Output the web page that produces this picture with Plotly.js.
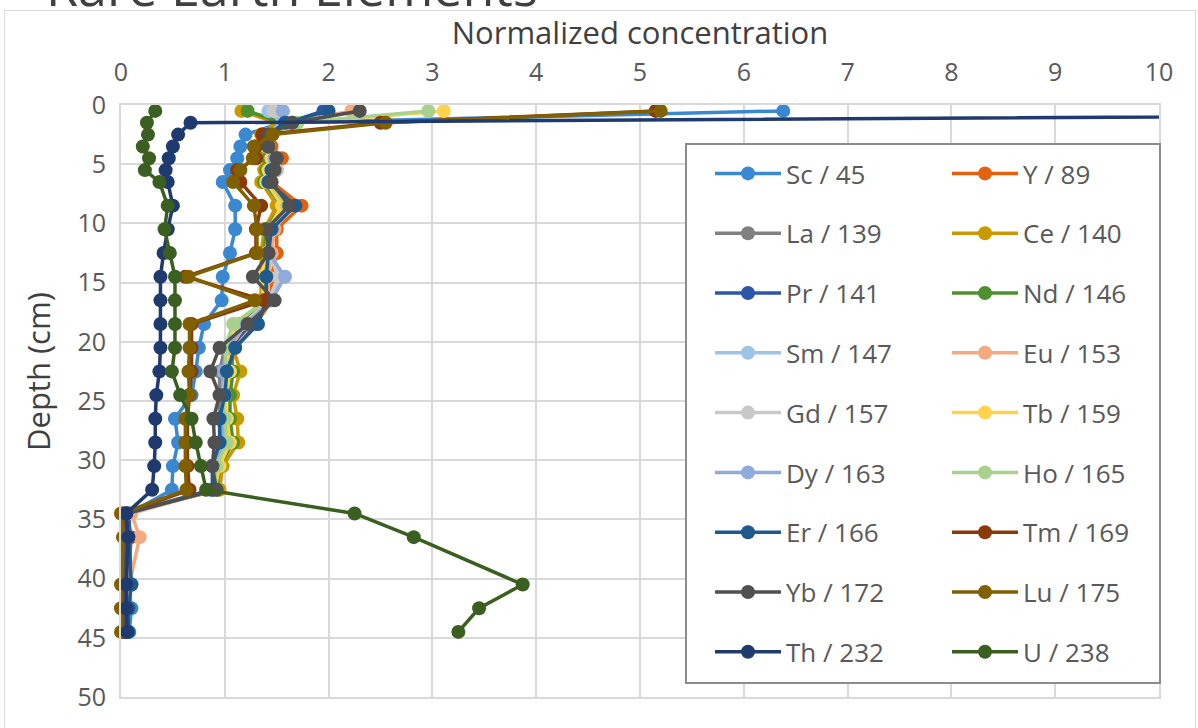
<!DOCTYPE html>
<html><head><meta charset="utf-8">
<script src="https://cdn.plot.ly/plotly-3.0.1.min.js"></script>
<style>
html,body{margin:0;padding:0;background:#fff;overflow:hidden}
#chart{width:1198px;height:728px}
#frame{position:absolute;left:4px;top:10px;width:1190px;height:740px;border:1px solid #d9d9d9;pointer-events:none}
</style></head><body>
<div id="chart"></div><div id="frame"></div>
<script>
// Depth of each sample (cm)
const depth = [0.5,1.5,2.5,3.5,4.5,5.5,6.5,8.5,10.5,12.5,14.5,16.5,18.5,20.5,22.5,24.5,26.5,28.5,30.5,32.5,34.5,36.5,40.5,42.5,44.5];

// Normalized concentrations per element
const Sc = [6.38,1.55,1.2,1.15,1.12,1.05,0.98,1.1,1.1,1.05,0.98,0.97,0.8,0.75,0.72,0.68,0.52,0.55,0.5,0.49,0.08,0.05,0.07,0.1,0.08];
const Y  = [2.25,1.65,1.45,1.45,1.55,1.5,1.45,1.74,1.5,1.5,1.45,1.45,1.3,1.1,1.05,1.0,0.98,0.98,0.92,0.9,0.06,0.1,0.06,0.05,0.05];
const La = [1.5,1.6,1.4,1.4,1.42,1.4,1.38,1.55,1.4,1.4,1.42,1.42,1.2,1.0,0.95,0.95,0.95,0.98,0.9,0.88,0.05,0.06,0.05,0.04,0.04];
const Ce = [1.16,1.5,1.35,1.35,1.4,1.38,1.35,1.5,1.38,1.35,1.35,1.35,1.2,1.08,1.15,1.08,1.12,1.13,0.98,0.95,0.02,0.05,0.02,0.01,0.01];
const Pr = [1.95,1.6,1.4,1.4,1.45,1.42,1.4,1.6,1.42,1.4,1.4,1.42,1.25,1.05,1.0,1.0,0.98,1.0,0.9,0.88,0.08,0.08,0.1,0.07,0.06];
const Nd = [1.22,1.55,1.38,1.38,1.42,1.4,1.38,1.55,1.4,1.38,1.38,1.4,1.15,1.05,1.08,1.05,1.05,1.08,0.95,0.92,0.03,0.05,0.03,0.02,0.02];
const Sm = [1.42,1.55,1.4,1.42,1.45,1.45,1.4,1.6,1.45,1.45,1.55,1.45,1.2,1.05,1.0,1.0,1.0,1.02,0.92,0.9,0.05,0.07,0.05,0.05,0.06];
const Eu = [2.22,1.65,1.42,1.42,1.5,1.48,1.42,1.65,1.48,1.45,1.42,1.42,1.2,1.05,1.0,0.98,0.98,1.0,0.92,0.9,0.1,0.18,0.08,0.06,0.06];
const Gd = [1.47,1.6,1.42,1.42,1.48,1.5,1.42,1.58,1.45,1.42,1.52,1.42,1.18,1.02,1.0,0.98,0.98,1.0,0.9,0.88,0.04,0.06,0.04,0.04,0.04];
const Tb = [3.11,1.7,1.42,1.4,1.45,1.42,1.4,1.55,1.42,1.4,1.35,1.38,1.1,1.02,1.05,1.0,1.02,1.05,0.95,0.9,0.04,0.06,0.04,0.04,0.04];
const Dy = [1.56,1.6,1.42,1.42,1.48,1.45,1.42,1.62,1.45,1.42,1.58,1.45,1.2,1.02,0.98,0.98,0.98,1.0,0.9,0.88,0.05,0.07,0.05,0.05,0.05];
const Ho = [2.96,1.7,1.42,1.42,1.5,1.45,1.42,1.6,1.45,1.42,1.4,1.4,1.08,1.0,1.02,0.98,1.0,1.02,0.92,0.9,0.05,0.06,0.05,0.04,0.04];
const Er = [2.0,1.58,1.42,1.42,1.5,1.45,1.42,1.68,1.45,1.42,1.4,1.4,1.32,1.1,1.02,1.0,0.95,0.95,0.88,0.88,0.05,0.07,0.1,0.07,0.07];
const Tm = [5.15,2.5,1.36,1.3,1.3,1.12,1.15,1.35,1.3,1.3,0.62,1.38,0.68,0.68,0.68,0.66,0.64,0.64,0.64,0.66,0.03,0.06,0.03,0.02,0.02];
const Yb = [2.3,1.65,1.42,1.42,1.5,1.48,1.45,1.62,1.4,1.42,1.27,1.48,1.22,0.95,0.86,0.95,0.89,0.9,0.88,0.92,0.05,0.05,0.04,0.03,0.03];
const Lu = [5.2,2.55,1.46,1.28,1.27,1.15,1.08,1.28,1.31,1.31,0.65,1.29,0.66,0.66,0.65,0.66,0.62,0.62,0.62,0.63,0.0,0.02,0.0,0.0,0.0];
const Th = [19.5,0.67,0.55,0.5,0.46,0.43,0.45,0.5,0.45,0.41,0.38,0.38,0.38,0.38,0.37,0.34,0.33,0.33,0.32,0.3,0.05,0.07,0.05,0.05,0.06];
const U  = [0.33,0.25,0.26,0.21,0.27,0.23,0.37,0.45,0.42,0.47,0.52,0.52,0.52,0.52,0.49,0.57,0.68,0.72,0.77,0.82,2.25,2.82,3.87,3.45,3.25];

const seriesNames = ['Sc / 45','Y / 89','La / 139','Ce / 140','Pr / 141','Nd / 146','Sm / 147','Eu / 153','Gd / 157','Tb / 159','Dy / 163','Ho / 165','Er / 166','Tm / 169','Yb / 172','Lu / 175','Th / 232','U / 238'];
const seriesValues = [Sc,Y,La,Ce,Pr,Nd,Sm,Eu,Gd,Tb,Dy,Ho,Er,Tm,Yb,Lu,Th,U];
const seriesColors = ['#3A88D2','#E2620F','#808080','#C99A00','#2E56A8','#4E9030','#9DC3E6','#F4AA80','#C8C8C8','#FFD24D','#8FAADC','#A9D18E','#1F5A8F','#8A3A0A','#505050','#806000','#1F3A6E','#3A5F20'];

const FONT = 'Open Sans, Noto Sans, sans-serif';
const traces = seriesValues.map((v, i) => ({
  type: 'scatter', mode: 'lines+markers',
  x: v, y: depth, name: seriesNames[i],
  legend: i % 2 === 0 ? 'legend' : 'legend2',
  legendgroup: 'g' + i,
  cliponaxis: false,
  line: {color: seriesColors[i], width: 3.5},
  marker: {color: seriesColors[i], size: 14}
}));

// plot area in px: left 121, right 1159, top 105, bottom 697
const L = 121, R = 1159, T = 105, B = 697;
const px = p => (p - L) / (R - L);
const py = p => (B - p) / (B - T);

const legendCommon = {
  xanchor: 'left', yanchor: 'top', bgcolor: 'rgba(0,0,0,0)', borderwidth: 0,
  font: {family: FONT, size: 26, color: '#595959'},
  tracegroupgap: 23, itemwidth: 66
};

const layout = {
  width: 1198, height: 728,
  margin: {l: L, r: 1198 - R, t: T, b: 728 - B},
  paper_bgcolor: '#fff', plot_bgcolor: '#fff',
  font: {family: FONT, color: '#595959'},
  showlegend: true,
  title: {text: 'Rare Earth Elements', font: {family: FONT, size: 52, color: '#404040'},
          xref: 'container', yref: 'container', x: 46 / 1198, xanchor: 'left', y: 1 - 6 / 728, yanchor: 'bottom'},
  xaxis: {
    side: 'top', range: [0, 10], dtick: 1, tick0: 0,
    showgrid: true, gridcolor: '#d9d9d9', gridwidth: 2,
    showline: true, mirror: true, linecolor: '#d9d9d9', linewidth: 2,
    zeroline: false, ticks: '', ticklabelstandoff: 12,
    tickfont: {family: FONT, size: 25, color: '#595959'},
    title: {text: 'Normalized concentration', font: {family: FONT, size: 31, color: '#404040'}, standoff: 0}
  },
  yaxis: {
    range: [50, 0], dtick: 5, tick0: 0,
    showgrid: true, gridcolor: '#d9d9d9', gridwidth: 2,
    showline: true, mirror: true, linecolor: '#d9d9d9', linewidth: 2,
    zeroline: false, ticks: '', ticklabelstandoff: 8,
    tickfont: {family: FONT, size: 25, color: '#595959'}
  },
  annotations: [{
    text: 'Depth (cm)', textangle: -90, showarrow: false,
    xref: 'paper', yref: 'paper', x: px(38), y: py(372), xanchor: 'center', yanchor: 'middle',
    font: {family: FONT, size: 31, color: '#404040'}
  }],
  legend: Object.assign({x: px(710), y: py(150)}, legendCommon),
  legend2: Object.assign({x: px(947), y: py(150)}, legendCommon),
  shapes: [{
    type: 'rect', xref: 'paper', yref: 'paper', layer: 'above',
    x0: px(686), x1: px(1160), y0: py(683), y1: py(144),
    fillcolor: '#ffffff', line: {color: '#8c8c8c', width: 2}
  }]
};

Plotly.newPlot('chart', traces, layout, {displayModeBar: false, staticPlot: true});
</script>
</body></html>
